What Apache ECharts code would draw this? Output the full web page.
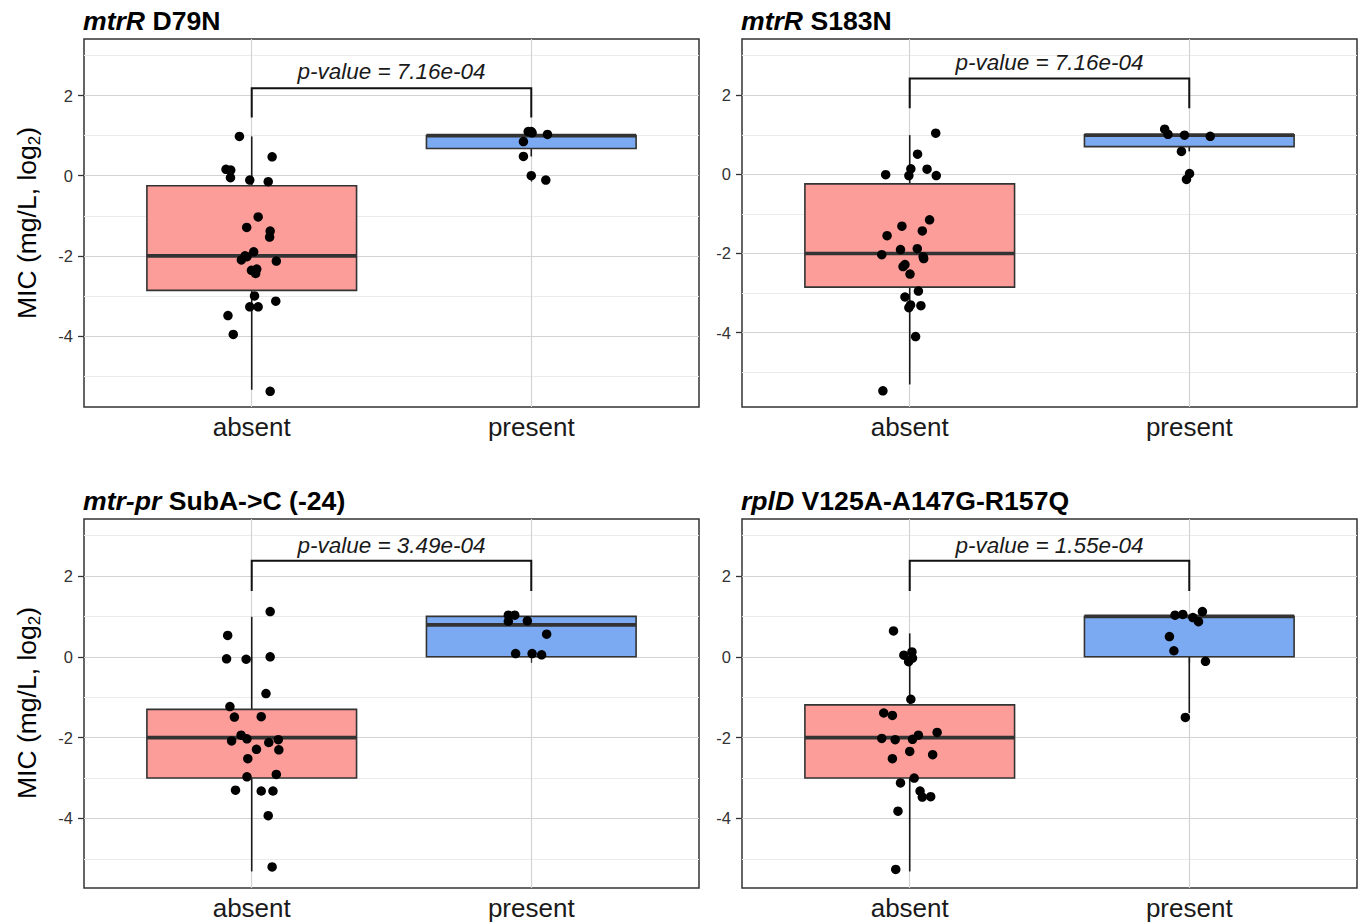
<!DOCTYPE html>
<html>
<head>
<meta charset="utf-8">
<script src="https://cdn.jsdelivr.net/npm/echarts@6/dist/echarts.min.js"></script>
<style>
  html, body { margin: 0; padding: 0; background: #ffffff; }
  #chart { width: 1359px; height: 922px; }
</style>
</head>
<body>
<div id="chart"></div>
<script>
// ---------------- DATA ----------------
const categories = ['absent', 'present'];
const yTickValues = [-4, -2, 0, 2];
const yMinorValues = [-5, -3, -1, 1, 3];

const titlesItalic = ['mtrR', 'mtrR', 'mtr-pr', 'rplD'];
const titlesPlain  = [' D79N', ' S183N', ' SubA->C (-24)', ' V125A-A147G-R157Q'];
const pValues = ['p-value = 7.16e-04', 'p-value = 7.16e-04', 'p-value = 3.49e-04', 'p-value = 1.55e-04'];

// boxes: [lowerWhisker, Q1, median, Q3, upperWhisker]
const boxAbsent  = [[-5.34, -2.86, -2.00, -0.25, 0.98], [-5.31, -2.85, -2.00, -0.24, 0.99], [-5.31, -3.00, -2.00, -1.30, 0.99], [-5.31, -3.00, -2.00, -1.19, 0.58]];
const boxPresent = [[0.48, 0.68, 1.00, 1.00, 1.00], [0.58, 0.70, 0.99, 1.00, 1.00], [0.00, 0.00, 0.79, 1.00, 1.00], [-1.39, 0.00, 1.00, 1.00, 1.00]];

// bracket: [whisker end, bar height, label height]
const brackets = [[1.45, 2.18, 2.59], [1.67, 2.42, 2.83], [1.63, 2.38, 2.76], [1.63, 2.38, 2.76]];
// y-axis ranges
const yMins = [-5.77, -5.88, -5.72, -5.72];
const yMaxs = [3.41, 3.42, 3.41, 3.41];

// jittered points (x offset from category centre, y value)
const absentX1 = [-0.044, 0.073, -0.092, -0.075, -0.076, -0.007, 0.059, 0.023, -0.018, 0.066, 0.064, 0.007, -0.024, -0.017, -0.037, 0.088, -0.001, 0.018, 0.014, 0.010, -0.007, 0.023, 0.086, -0.085, -0.066, 0.066];
const absentY1 = [0.98, 0.47, 0.16, 0.14, -0.05, -0.11, -0.15, -1.03, -1.29, -1.38, -1.53, -1.90, -2.00, -2.02, -2.10, -2.13, -2.36, -2.33, -2.44, -3.00, -3.27, -3.27, -3.13, -3.49, -3.96, -5.38];
const presentX1 = [-0.011, 0.000, 0.003, 0.058, -0.028, -0.028, 0.000, 0.052];
const presentY1 = [1.10, 1.10, 1.07, 1.03, 0.85, 0.48, 0.00, -0.11];

const absentX2 = [0.093, 0.028, 0.004, 0.062, -0.086, -0.003, 0.095, 0.071, -0.028, 0.045, -0.081, -0.100, -0.033, 0.027, 0.050, 0.048, -0.024, -0.017, 0.001, 0.031, -0.017, 0.003, -0.003, 0.040, 0.021, -0.096];
const absentY2 = [1.04, 0.51, 0.14, 0.13, -0.01, -0.03, -0.03, -1.15, -1.31, -1.43, -1.55, -2.03, -1.90, -1.88, -2.13, -2.08, -2.33, -2.28, -2.52, -2.95, -3.10, -3.30, -3.37, -3.32, -4.10, -5.47];
const presentX2 = [-0.088, -0.076, -0.017, 0.075, -0.028, 0.001, -0.010];
const presentY2 = [1.14, 1.01, 0.99, 0.96, 0.58, 0.02, -0.13];

const absentX3 = [0.066, -0.086, -0.090, -0.020, 0.066, 0.051, -0.078, -0.062, 0.034, -0.038, -0.072, -0.017, 0.061, 0.095, 0.017, 0.097, -0.014, -0.017, 0.088, -0.058, 0.034, 0.076, 0.059, 0.073];
const absentY3 = [1.12, 0.53, -0.05, -0.06, 0.00, -0.91, -1.23, -1.49, -1.48, -1.94, -2.08, -2.03, -2.12, -2.05, -2.29, -2.30, -2.52, -2.97, -2.91, -3.30, -3.32, -3.32, -3.93, -5.20];
const presentX3 = [-0.082, -0.059, -0.082, -0.014, 0.055, -0.056, 0.003, 0.037];
const presentY3 = [1.03, 1.03, 0.88, 0.89, 0.56, 0.08, 0.08, 0.05];

const absentX4 = [-0.058, -0.021, 0.008, -0.004, 0.010, 0.004, -0.093, -0.062, -0.100, -0.052, 0.010, 0.031, 0.098, 0.000, -0.062, 0.082, 0.016, -0.033, 0.037, 0.045, 0.075, -0.042, -0.050];
const absentY4 = [0.64, 0.04, 0.12, -0.12, -0.03, -1.05, -1.39, -1.45, -2.02, -2.05, -2.04, -1.94, -1.87, -2.34, -2.52, -2.42, -3.00, -3.12, -3.32, -3.47, -3.46, -3.82, -5.26];
const presentX4 = [-0.051, -0.023, 0.047, 0.013, 0.033, -0.071, -0.055, 0.058, -0.014];
const presentY4 = [1.03, 1.05, 1.12, 0.97, 0.87, 0.50, 0.15, -0.11, -1.50];

const absentXs = [absentX1, absentX2, absentX3, absentX4];
const absentYs = [absentY1, absentY2, absentY3, absentY4];
const presentXs = [presentX1, presentX2, presentX3, presentX4];
const presentYs = [presentY1, presentY2, presentY3, presentY4];

// ---------------- LAYOUT / STYLE ----------------
const FONT = '"Liberation Sans", Arial, Helvetica, sans-serif';
const gridRects = [
  { left: 84, top: 39, width: 615, height: 368 },
  { left: 742, top: 39, width: 615, height: 368 },
  { left: 84, top: 519, width: 615, height: 369 },
  { left: 742, top: 519, width: 615, height: 369 }
];
const boxFill = ['#FC9D9A', '#7BAAF2'];
const HALF_BOX = 0.375;

const grids = [], xAxes = [], yAxes = [], series = [];

for (let p = 0; p < 4; p++) {
  grids.push(Object.assign({
    show: true, borderColor: '#333333', borderWidth: 1.5, backgroundColor: 'transparent'
  }, gridRects[p]));

  xAxes.push({
    gridIndex: p, type: 'value', min: 0.4, max: 2.6,
    axisLine: { show: false },
    axisTick: { show: true, customValues: [1, 2], length: 6, lineStyle: { color: '#333333', width: 1.3 } },
    axisLabel: {
      customValues: [1, 2], margin: 7, fontSize: 26, lineHeight: 26, color: '#1a1a1a', fontFamily: FONT,
      formatter: v => categories[Math.round(v) - 1]
    },
    splitLine: { show: true, lineStyle: { color: '#d3d3d3', width: 1.2 } }
  });

  yAxes.push({
    gridIndex: p, type: 'value', min: yMins[p], max: yMaxs[p], position: 'left',
    axisLine: { show: false },
    axisTick: { show: true, customValues: yTickValues, length: 6, lineStyle: { color: '#333333', width: 1.3 } },
    axisLabel: { customValues: yTickValues, margin: 11, fontSize: 16.5, color: '#333333', fontFamily: FONT },
    splitLine: { show: true, lineStyle: { color: '#d3d3d3', width: 1.2 } }
  });
  yAxes.push({
    gridIndex: p, type: 'value', min: yMins[p], max: yMaxs[p], position: 'left', offset: 0,
    axisLine: { show: false },
    axisTick: { show: false, customValues: yMinorValues },
    axisLabel: { show: false, customValues: yMinorValues },
    splitLine: { show: true, lineStyle: { color: '#ebebeb', width: 1 } }
  });

  // boxplots
  const boxData = [[1].concat(boxAbsent[p]), [2].concat(boxPresent[p])];
  series.push({
    type: 'custom', xAxisIndex: p, yAxisIndex: 2 * p, z: 2,
    data: boxData,
    renderItem: function (params, api) {
      const x = api.value(0), lo = api.value(1), q1 = api.value(2), med = api.value(3), q3 = api.value(4), hi = api.value(5);
      const tl = api.coord([x - HALF_BOX, q3]);
      const br = api.coord([x + HALF_BOX, q1]);
      const pHi = api.coord([x, hi]), pQ3 = api.coord([x, q3]), pQ1 = api.coord([x, q1]), pLo = api.coord([x, lo]);
      const mL = api.coord([x - HALF_BOX, med]), mR = api.coord([x + HALF_BOX, med]);
      const children = [];
      if (hi > q3) children.push({ type: 'line', shape: { x1: pHi[0], y1: pHi[1], x2: pQ3[0], y2: pQ3[1] }, style: { stroke: '#1a1a1a', lineWidth: 1.6 } });
      if (lo < q1) children.push({ type: 'line', shape: { x1: pQ1[0], y1: pQ1[1], x2: pLo[0], y2: pLo[1] }, style: { stroke: '#1a1a1a', lineWidth: 1.6 } });
      children.push({ type: 'rect', shape: { x: tl[0], y: tl[1], width: br[0] - tl[0], height: Math.max(br[1] - tl[1], 0.5) },
        style: { fill: boxFill[params.dataIndex], stroke: '#333333', lineWidth: 1.6 } });
      children.push({ type: 'line', shape: { x1: mL[0], y1: mL[1], x2: mR[0], y2: mR[1] }, style: { stroke: '#333333', lineWidth: 3.6 } });
      return { type: 'group', children: children };
    }
  });

  // jittered points
  const pts = [];
  absentXs[p].forEach((dx, i) => pts.push([1 + dx, absentYs[p][i]]));
  presentXs[p].forEach((dx, i) => pts.push([2 + dx, presentYs[p][i]]));
  series.push({
    type: 'scatter', xAxisIndex: p, yAxisIndex: 2 * p, z: 3,
    symbol: 'circle', symbolSize: 9.5, itemStyle: { color: '#000000', opacity: 1 },
    data: pts, silent: true
  });

  // significance bracket + p-value label
  series.push({
    type: 'custom', xAxisIndex: p, yAxisIndex: 2 * p, z: 4,
    data: [brackets[p]],
    renderItem: function (params, api) {
      const lo = api.value(0), top = api.value(1), ty = api.value(2);
      const a = api.coord([1, lo]), b = api.coord([1, top]), c = api.coord([2, top]), d = api.coord([2, lo]);
      const t = api.coord([1.5, ty]);
      return {
        type: 'group', children: [
          { type: 'polyline', shape: { points: [a, b, c, d] }, style: { stroke: '#111111', lineWidth: 2, fill: null } },
          { type: 'text', x: t[0], y: t[1], style: {
              text: pValues[p], font: 'italic 22.5px ' + FONT, fill: '#1a1a1a',
              align: 'center', verticalAlign: 'middle', textAlign: 'center', textVerticalAlign: 'middle' } }
        ]
      };
    }
  });
}

// titles and y-axis names
const titleY = [21, 21, 501, 501];
const titleX = [83, 741, 83, 741];
const graphics = [];
for (let p = 0; p < 4; p++) {
  graphics.push({
    type: 'text', x: titleX[p], y: titleY[p],
    style: {
      text: '{i|' + titlesItalic[p] + '}{b|' + titlesPlain[p] + '}',
      rich: {
        i: { fontStyle: 'italic', fontWeight: 'bold', fontSize: 26.6, fontFamily: FONT, fill: '#000', color: '#000' },
        b: { fontWeight: 'bold', fontSize: 26.6, fontFamily: FONT, fill: '#000', color: '#000' }
      },
      align: 'left', verticalAlign: 'middle', textAlign: 'left', textVerticalAlign: 'middle'
    }
  });
}
[223, 703].forEach(cy => {
  graphics.push({
    type: 'text', x: 27, y: cy, rotation: Math.PI / 2,
    style: {
      text: '{a|MIC (mg/L, log}{s|2}{a|)}',
      rich: {
        a: { fontSize: 26.5, fontFamily: FONT, fill: '#000', color: '#000' },
        s: { fontSize: 17, fontFamily: FONT, fill: '#000', color: '#000', padding: [14, 0, 0, 0] }
      },
      align: 'center', verticalAlign: 'middle', textAlign: 'center', textVerticalAlign: 'middle'
    }
  });
});

const chart = echarts.init(document.getElementById('chart'), null, { renderer: 'svg' });
chart.setOption({
  backgroundColor: '#ffffff',
  animation: false,
  grid: grids,
  xAxis: xAxes,
  yAxis: yAxes,
  series: series,
  graphic: graphics
});
</script>
</body>
</html>
